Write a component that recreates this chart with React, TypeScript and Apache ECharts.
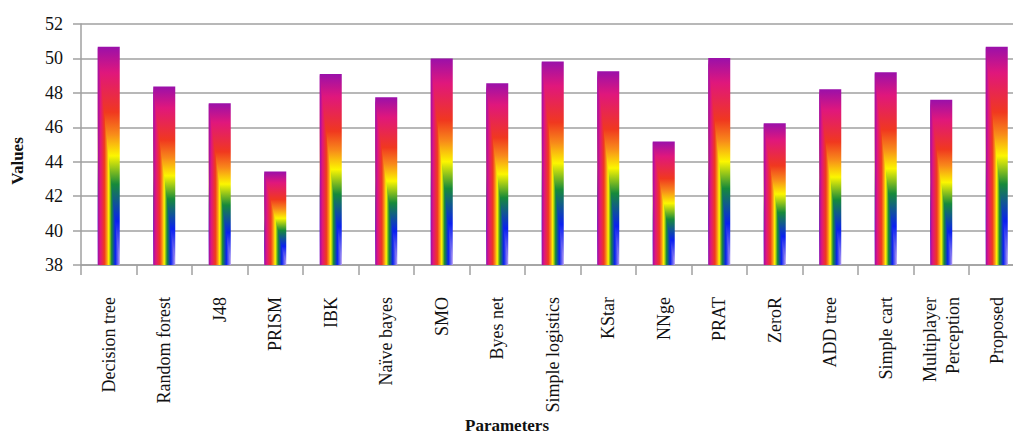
import React, { useEffect, useRef } from "react";
import * as echarts from "echarts";

const categories = [
  "Decision tree",
  "Random forest",
  "J48",
  "PRISM",
  "IBK",
  "Naïve bayes",
  "SMO",
  "Byes net",
  "Simple logistics",
  "KStar",
  "NNge",
  "PRAT",
  "ZeroR",
  "ADD tree",
  "Simple cart",
  "Multiplayer\nPerception",
  "Proposed",
];

const values = [
  50.68, 48.37, 47.4, 43.43, 49.1, 47.75, 50.0, 48.56, 49.82, 49.26, 45.17,
  50.02, 46.24, 48.21, 49.2, 47.6, 50.68,
];

const yTicks = { min: 38, max: 52, interval: 2 };

const rainbowStops = [
  { offset: 0, color: "#9a10aa" },
  { offset: 0.12, color: "#e0177c" },
  { offset: 0.3, color: "#f0381f" },
  { offset: 0.4, color: "#f88a1a" },
  { offset: 0.5, color: "#fcf600" },
  { offset: 0.63, color: "#168a3a" },
  { offset: 0.8, color: "#0a20f0" },
  { offset: 1, color: "#b69cf2" },
];

const FONT = "'Liberation Serif', 'DejaVu Serif', serif";

export default function App() {
  const ref = useRef<HTMLDivElement>(null);

  useEffect(() => {
    if (!ref.current) return;
    const chart = echarts.init(ref.current, undefined, { renderer: "svg" });
    const barW = 22;
    const option: any = {
      animation: false,
      backgroundColor: "#ffffff",
      grid: { left: 81, right: 15.5, top: 24, bottom: 169, containLabel: false },
      xAxis: {
        type: "category",
        data: categories,
        boundaryGap: true,
        axisLine: { show: true, lineStyle: { color: "#a0a0a0", width: 1.5 } },
        axisTick: { show: true, length: 10, alignWithLabel: false, lineStyle: { color: "#a0a0a0", width: 1.5 } },
        axisLabel: {
          interval: 0,
          rotate: 90,
          margin: 32,
          fontFamily: FONT,
          fontSize: 18,
          color: "#111",
          lineHeight: 23,
        },
      },
      yAxis: {
        type: "value",
        min: yTicks.min,
        max: yTicks.max,
        interval: yTicks.interval,
        axisLine: { show: true, lineStyle: { color: "#a0a0a0", width: 1.5 } },
        axisTick: { show: true, length: 8, lineStyle: { color: "#a0a0a0", width: 1.5 } },
        axisLabel: { fontFamily: FONT, fontSize: 18, color: "#111", margin: 18 },
        splitLine: { show: true, lineStyle: { color: "#a0a0a0", width: 1.5 } },
      },
      series: [
        {
          type: "custom",
          data: values.map((v, i) => [i, v]),
          encode: { x: 0, y: 1 },
          renderItem: (params: any, api: any) => {
            const idx = api.value(0);
            const v = api.value(1);
            const top = api.coord([idx, v]);
            const base = api.coord([idx, yTicks.min]);
            const x = top[0] - barW / 2;
            const y = top[1];
            const h = base[1] - top[1];
            return {
              type: "group",
              children: [
                {
                  type: "rect",
                  shape: { x, y, width: barW, height: h },
                  style: {
                    fill: new echarts.graphic.LinearGradient(0, 0, 0, 1, rainbowStops),
                  },
                },
                {
                  type: "polygon",
                  shape: {
                    points: [
                      [x, y],
                      [x, y + h],
                      [x + barW, y + h],
                    ],
                  },
                  style: {
                    fill: new echarts.graphic.LinearGradient(0, 0, 1, 0, rainbowStops),
                  },
                },
              ],
            };
          },
        },
      ],
      graphic: [
        {
          type: "text",
          x: 17,
          y: 161,
          rotation: Math.PI / 2,
          style: {
            text: "Values",
            fontFamily: FONT,
            fontSize: 17,
            fontWeight: "bold",
            fill: "#111",
            align: "center",
            verticalAlign: "middle",
          },
        },
        {
          type: "text",
          x: 507,
          y: 425,
          style: {
            text: "Parameters",
            fontFamily: FONT,
            fontSize: 17,
            fontWeight: "bold",
            fill: "#111",
            align: "center",
            verticalAlign: "middle",
          },
        },
      ],
    };
    chart.setOption(option);
    return () => chart.dispose();
  }, []);

  return (
    <div
      style={{
        position: "fixed",
        left: 0,
        top: 0,
        width: 1013,
        height: 434,
        overflow: "hidden",
        background: "#fff",
      }}
    >
      <div ref={ref} style={{ width: 1040, height: 434 }} />
    </div>
  );
}
